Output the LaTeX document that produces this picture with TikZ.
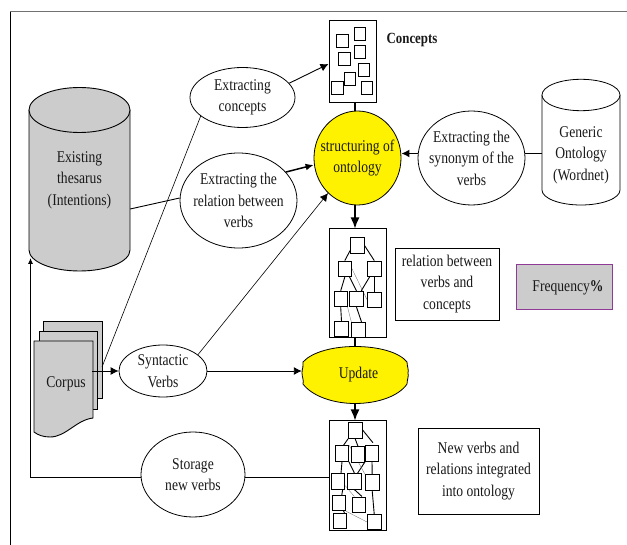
\documentclass[tikz,border=0pt]{standalone}
\usepackage{fontspec}
\setmainfont[FakeStretch=0.83]{Liberation Serif}
\usetikzlibrary{shapes.geometric,arrows.meta}
\pgfdeclarelayer{edgelayer}
\pgfdeclarelayer{squarelayer}
\pgfsetlayers{main,edgelayer,squarelayer}
\definecolor{pagegray}{HTML}{CCCCCC}
\definecolor{framegray}{HTML}{707070}
\definecolor{freqborder}{HTML}{8E3A96}
\tikzset{
  lbl/.style={font=\fontsize{16.4}{21.5}\selectfont,align=center,inner sep=0pt,text=black!90},
  oval/.style={draw,ellipse,inner sep=0pt,line width=0.8pt,fill=white},
  txtbox/.style={lbl,draw,line width=0.9pt,fill=white},
  holder/.style={draw,line width=1pt,fill=white},
  sq/.style={draw,line width=0.9pt,fill=white,inner sep=0pt,minimum width=13.5pt,minimum height=15.5pt},
  csq/.style={draw,line width=0.9pt,fill=white,inner sep=0pt,minimum width=11.5pt,minimum height=13pt},
  con/.style={line width=0.9pt},
  fine/.style={line width=0.6pt},
  heavy/.style={line width=1.5pt},
  tipa/.style={-{Latex[length=8pt,width=8pt]}},
  tipb/.style={-{Latex[length=11pt,width=9pt]}},
  hair/.style={line width=0.3pt,black!60},
}
\begin{document}
\begin{tikzpicture}[x=1pt,y=-1pt]
\useasboundingbox (0,0) rectangle (627,545);
\fill[white] (0,0) rectangle (627,545);
% page frame
\draw[line width=1pt] (10.5,11.5) -- (10.5,545);
\draw[framegray,line width=1.8pt] (10,11.5) -- (627,11.5);

% Existing thesaurus cylinder
\draw[fill=pagegray,line width=0.9pt] (29,110) -- (29,250) arc[start angle=180,end angle=0,x radius=50.5,y radius=21] -- (130,110);
\draw[fill=pagegray,line width=0.9pt] (79.5,110) ellipse[x radius=50.5,y radius=22.5];
\node[lbl,minimum width=101pt,minimum height=140pt] (thes) at (79.5,180) {Existing\\thesarus\\(Intentions)};

% Generic ontology cylinder
\draw[fill=white,line width=0.8pt] (542,95) -- (542,190) arc[start angle=180,end angle=0,x radius=39,y radius=15] -- (620,95);
\draw[fill=white,line width=0.8pt] (581,95) ellipse[x radius=39,y radius=15.7];
\node[lbl,minimum width=78pt,minimum height=95pt] (wordnet) at (581,155) {Generic\\Ontology\\(Wordnet)};

% Corpus pages
\draw[fill=pagegray,line width=0.9pt] (43,398) -- (43,321) -- (102,321) -- (102,398) -- cycle;
\draw[fill=pagegray,line width=0.9pt] (39,409) -- (39,331) -- (97,331) -- (97,409) -- cycle;
\draw[fill=pagegray,line width=0.9pt] (34,432) -- (34,341) -- (93,341) -- (93,418)
  .. controls (76,420) and (66,437) .. (50,437) .. controls (43,437) and (38,435) .. (34,432) -- cycle;
\node[lbl] (corpus) at (66,384) {Corpus};
\coordinate (corpusline) at (92,371);
\coordinate (corpusedge) at (102,367);

% Update shape
\draw[fill=yellow,line width=0.8pt] (302,373)
  .. controls (302,368) and (304,366) .. (303,362) .. controls (312,352) and (333,346.5) .. (355,346.5)
  .. controls (378,346.5) and (399,352) .. (407,362) .. controls (407,366) and (409,370) .. (408,373)
  .. controls (409,376) and (407,380) .. (407,384) .. controls (399,396) and (378,403.5) .. (355,403.5)
  .. controls (333,403.5) and (312,396) .. (303,384) .. controls (304,380) and (302,377) .. (302,373) -- cycle;
\node[lbl,minimum width=106pt,minimum height=57pt] (update) at (355,375) {\hspace*{7pt}Update};

% Holders
\node[holder,minimum width=47pt,minimum height=82pt,inner sep=0pt] (hconcepts) at (352.5,62) {};
\node[holder,minimum width=57pt,minimum height=109pt,inner sep=0pt] (hrelation) at (357.5,283.5) {};
\node[holder,minimum width=57pt,minimum height=109pt,inner sep=0pt] (hnew) at (357.5,475.5) {};

% Ovals
\node[oval,fill=yellow,minimum width=87pt,minimum height=94pt,label={[lbl]center:{structuring of\\ontology}}] (struct) at (357.5,158) {};
\node[oval,minimum width=107pt,minimum height=94pt,label={[lbl]center:{Extracting the\\synonym of the\\verbs}}] (syn) at (471.5,158) {};
\node[oval,minimum width=105pt,minimum height=60pt,label={[lbl]center:{Extracting\\concepts}}] (xconcepts) at (242.5,97.5) {};
\node[oval,minimum width=117pt,minimum height=95pt,label={[lbl]center:{Extracting the\\relation between\\verbs}}] (xrel) at (238.5,200.5) {};
\node[oval,minimum width=88pt,minimum height=52pt,label={[lbl]center:{Syntactic\\Verbs}}] (synt) at (163,371) {};
\node[oval,minimum width=104pt,minimum height=85pt,label={[lbl]center:{Storage\\new verbs}}] (storage) at (193,474.5) {};

% Text boxes
\node[txtbox,minimum width=104pt,minimum height=72pt] (trel) at (447,284) {relation between\\verbs and\\concepts};
\node[txtbox,minimum width=121pt,minimum height=86pt] (tnew) at (478.5,471) {New verbs and\\relations integrated\\into ontology};
\node[lbl,draw=freqborder,fill=pagegray,line width=1pt,minimum width=96pt,minimum height=45pt] (freq) at (564,287.5) {\hspace*{8pt}Frequency\textbf{\%}};
\node[lbl,font=\fontsize{15.5}{17}\selectfont\bfseries] (tconcepts) at (412,40) {Concepts};

\begin{pgfonlayer}{squarelayer}
% Concept squares
\node[csq] (c1) at (342.5,41) {};
\node[csq] (c2) at (360,34) {};
\node[csq] (c3) at (344.3,59.3) {};
\node[csq] (c4) at (359.7,51.7) {};
\node[csq] (c5) at (364,70) {};
\node[csq] (c6) at (349.7,78.5) {};
\node[csq] (c7) at (337.3,88.2) {};
\node[csq] (c8) at (367,88.2) {};

% Relation squares
\node[sq] (r1) at (357.3,245.5) {};
\node[sq] (r2) at (344.8,268.8) {};
\node[sq] (r3) at (374.3,268.8) {};
\node[sq] (r4) at (340.7,299) {};
\node[sq] (r5) at (356.5,299) {};
\node[sq] (r6) at (374.3,299.8) {};
\node[sq] (r7) at (341.5,329) {};
\node[sq] (r8) at (358.5,330) {};

% New ontology squares
\node[sq] (n1) at (355.2,430.7) {};
\node[sq] (n2) at (342,453.5) {};
\node[sq] (n3) at (358,454.5) {};
\node[sq] (n4) at (372,453.5) {};
\node[sq] (n5) at (338,481.5) {};
\node[sq] (n6) at (354.5,481.5) {};
\node[sq] (n7) at (372.2,482.5) {};
\node[sq] (n8) at (338.8,503) {};
\node[sq] (n9) at (359,504.7) {};
\node[sq] (n10) at (339.8,521) {};
\node[sq] (n11) at (374.2,522) {};
\end{pgfonlayer}

\begin{pgfonlayer}{edgelayer}
\draw[con] (r1.215) -- (r2.north);
\draw[con] (r1.east) -- (r3.north);
\draw[con] (r2.south) -- (r4.north);
\draw[con] (r2.-60) -- (r5.north);
\draw[con] (r3.-120) -- (r5.60);
\draw[con] (r3.south) -- (r6.north);
\draw[hair] (r2.east) -- (r6.west);
\draw[con] (r4.south) -- (r7.north);
\draw[con] (r5.south) -- (r8.70);
\draw[hair] (r4.-50) -- (r8.north west);

\draw[con] (n1.south west) -- ++(-7,10);
\draw[con] (n1.south) -- (n3.north);
\draw[con] (n1.east) ++(0,-1) -- ++(10.5,13);
\draw[con] (n2.south) -- (n5.70);
\draw[con] (n2.-50) -- (n6.north);
\draw[con] (n4.-130) -- (n6.70);
\draw[con] (n4.south) -- (n7.north);
\draw[hair] (n2.north east) -- (n7.north west);
\draw[con] (n5.-60) -- (n8.70);
\draw[con] (n6.south) -- (n9.70);
\draw[hair] (n5.-30) -- (n9.120);
\draw[con] (n8.-60) -- (n10.60);
\draw[con] (n7.south) -- (n11.north);
\draw[hair] (n8.south east) -- (n11.west);
\end{pgfonlayer}

% Connectors
\draw[con] (thes.east |- 0,209) -- (xrel.west |- 0,198);
\draw[heavy,-{Latex[length=8pt,width=7pt]}] (xrel.31) -- (struct.west |- 0,165);
\draw[con,tipa] (xconcepts.17) -- (hconcepts.west |- 0,64);
\draw[fine] (corpusedge) -- (xconcepts.-156);
\draw[fine,tipa] (synt.25) -- (struct.-130);
\draw[heavy] (hconcepts.south -| 355,0) -- (struct.north -| 355,0);
\draw[heavy,tipa] (syn.west |- 0,153.5) -- (struct.east |- 0,153.5);
\draw[con] (wordnet.west |- 0,153.5) -- (syn.east |- 0,153.5);
\draw[heavy,tipb] (struct.south -| 355,0) -- (hrelation.north -| 355,0);
\draw[heavy] (hrelation.south -| 355,0) -- (update.north -| 355,0);
\draw[heavy,tipb] (update.south -| 355,0) -- (hnew.north -| 355,0);
\draw[con,tipa] (corpusline) -- (synt.west);
\draw[con,tipa] (synt.east) -- (update.west |- synt.east);
\draw[con] (hnew.west |- 0,477) -- (storage.east |- 0,477);
\coordinate (turn) at (30.5,477);
\coordinate (thesbottom) at (30.5,258);
\draw[con,-{Latex[length=6pt,width=5pt]}] (storage.west |- 0,477) -- (turn) -- (thesbottom);
\end{tikzpicture}
\end{document}
